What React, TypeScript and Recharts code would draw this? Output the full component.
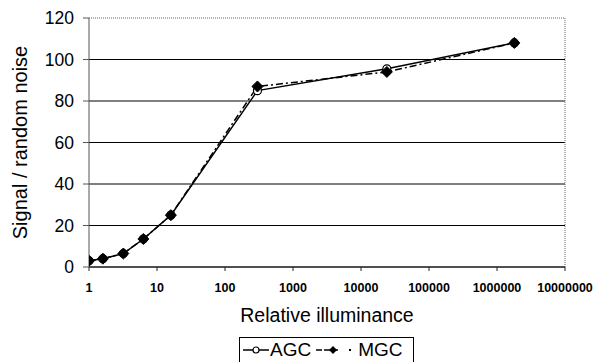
import {
  CartesianGrid,
  Legend,
  Line,
  LineChart,
  ReferenceLine,
  XAxis,
  YAxis,
} from 'recharts'

const illuminance = [1, 1.6, 3.2, 6.3, 16, 300, 24000, 1800000]
const agcValues = [3, 4, 6.5, 13.5, 25, 85, 95.5, 108]
const mgcValues = [3, 4, 6.5, 13.5, 25, 87, 94, 108]
const xTicks = [1, 10, 100, 1000, 10000, 100000, 1000000, 10000000]
const yTicks = [0, 20, 40, 60, 80, 100, 120]

const data = illuminance.map((x, i) => ({ x, agc: agcValues[i], mgc: mgcValues[i] }))

const FONT = '"Liberation Sans", Arial, sans-serif'

function DiamondDot(props: any) {
  const { cx, cy } = props
  if (cx == null || cy == null) {
    return null
  }
  const s = 5.5
  return (
    <path
      d={`M${cx},${cy - s} L${cx + s},${cy} L${cx},${cy + s} L${cx - s},${cy} Z`}
      fill="#000"
      stroke="#000"
      strokeWidth={1}
    />
  )
}

function LegendBox() {
  return (
    <div
      style={{
        boxSizing: 'border-box',
        height: 25,
        width: 175,
        border: '1px solid #000',
        borderBottom: 'none',
        display: 'flex',
        alignItems: 'center',
        fontFamily: FONT,
        fontSize: 19,
        color: '#000',
        paddingLeft: 2,
      }}
    >
      <svg width={27} height={12} style={{ marginRight: 1 }}>
        <line x1={1} y1={6} x2={27} y2={6} stroke="#000" strokeWidth={1.5} />
        <circle cx={14} cy={6} r={3} fill="#fff" stroke="#000" strokeWidth={1.2} />
      </svg>
      <span>AGC</span>
      <svg width={40} height={12} style={{ marginLeft: 4, marginRight: 3 }}>
        <line x1={1} y1={6} x2={25} y2={6} stroke="#000" strokeWidth={1.5} strokeDasharray="6 2" />
        <path d="M18,2 L22,6 L18,10 L14,6 Z" fill="#000" />
        <rect x={34} y={5} width={2} height={2} fill="#000" />
      </svg>
      <span>MGC</span>
    </div>
  )
}

export default function App() {
  return (
    <div style={{ position: 'absolute', left: 0, top: 0, background: '#fff', fontFamily: FONT }}>
      <LineChart
        width={601}
        height={362}
        data={data}
        margin={{ top: 18, right: 36, bottom: 0, left: 0 }}
        style={{ fontFamily: FONT }}
      >
        <CartesianGrid
          vertical={false}
          horizontalValues={[0, 20, 40, 60, 80, 100]}
          stroke="#000"
          strokeWidth={1}
        />
        <ReferenceLine y={120} stroke="#666" strokeDasharray="1 1" />
        <ReferenceLine x={10000000} stroke="#666" strokeDasharray="1 1" />
        <XAxis
          dataKey="x"
          type="number"
          scale="log"
          domain={[1, 10000000]}
          ticks={xTicks}
          allowDataOverflow
          interval={0}
          height={70}
          tickSize={4}
          tickMargin={12}
          stroke="#222"
          tick={{ fill: '#000', fontSize: 12.5, fontWeight: 'bold' }}
          tickFormatter={(v: number) => String(v)}
          label={{
            value: 'Relative illuminance',
            position: 'insideBottom',
            offset: 15,
            fill: '#000',
            fontSize: 19.5,
          }}
        />
        <YAxis
          domain={[0, 120]}
          ticks={yTicks}
          width={89}
          tickSize={6}
          tickMargin={9}
          stroke="#555"
          tick={{ fill: '#000', fontSize: 17.5 }}
          label={{
            value: 'Signal / random noise',
            angle: -90,
            position: 'insideLeft',
            offset: 20,
            fill: '#000',
            fontSize: 20,
            style: { textAnchor: 'middle' },
          }}
        />
        <Legend verticalAlign="bottom" content={() => <LegendBox />} wrapperStyle={{ left: 239, width: 175 }} />
        <Line
          dataKey="agc"
          name="AGC"
          stroke="#000"
          strokeWidth={1.5}
          dot={{ r: 4, fill: '#fff', stroke: '#000', strokeWidth: 1.2 }}
          isAnimationActive={false}
        />
        <Line
          dataKey="mgc"
          name="MGC"
          stroke="#000"
          strokeWidth={1.5}
          strokeDasharray="7 3 2 3"
          dot={<DiamondDot />}
          isAnimationActive={false}
        />
      </LineChart>
    </div>
  )
}
